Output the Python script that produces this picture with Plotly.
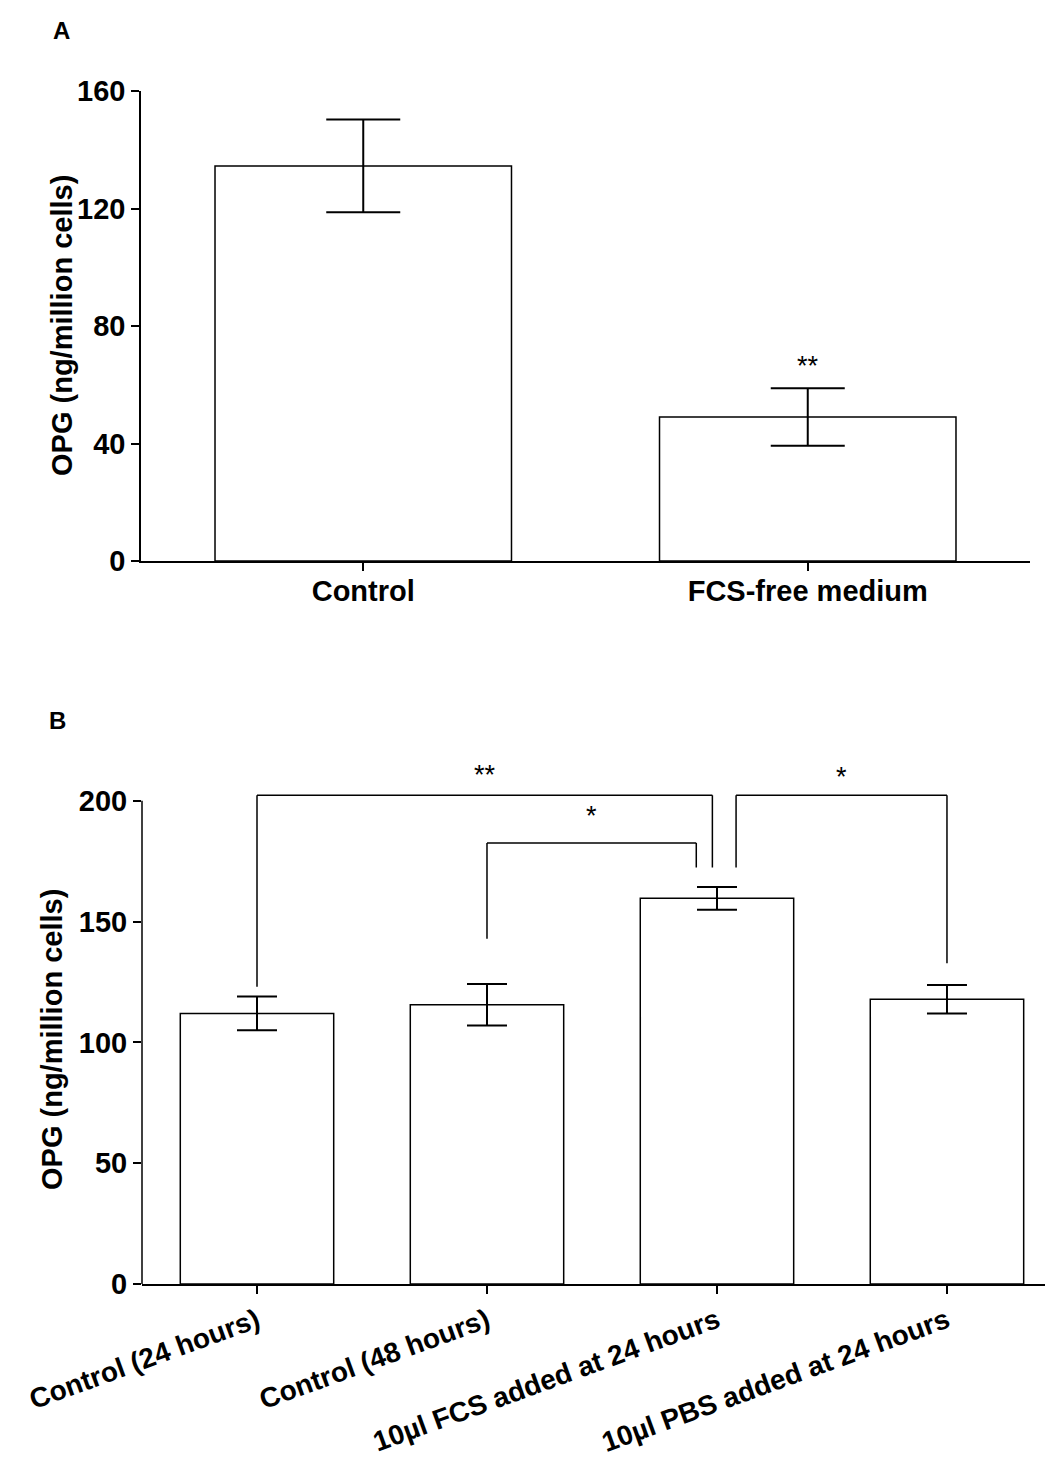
import plotly.graph_objects as go

# ---------------- data ----------------
cats_a = ["Control", "FCS-free medium"]
vals_a = [134.5, 49.0]
err_a = [15.8, 9.8]
sig_a = ["", "**"]
sig_a_y = [None, 68.0]
ticks_a = [0, 40, 80, 120, 160]

cats_b = ["Control (24 hours)", "Control (48 hours)",
          "10µl FCS added at 24 hours", "10µl PBS added at 24 hours"]
vals_b = [112.0, 115.6, 159.6, 117.8]
err_b = [7.0, 8.6, 4.7, 5.9]
ticks_b = [0, 50, 100, 150, 200]

# significance brackets (panel B)
br_left = [0, 1, 2]
br_right = [2, 2, 3]
br_top = [202.3, 182.5, 202.3]
br_left_end = [123.0, 142.9, 172.4]
br_right_end = [172.4, 172.4, 132.7]
br_label = ["**", "*", "*"]
br_label_y = [211.5, 194.5, 210.5]

# ---------------- style ----------------
OFF = 8                      # default page body margin
W, H = 1053 - OFF, 1464 - OFF
FONT = "Liberation Sans, Arial, sans-serif"
LW = 1.5
FS = 29
br_left_off = [0.0, 0.0, 0.083]
br_right_off = [-0.02, -0.09, 0.0]


def px(p):
    return (p - OFF) / W


def py(p):
    return 1 - (p - OFF) / H


fig = go.Figure()

fig.add_trace(go.Bar(
    x=cats_a, y=vals_a, width=0.667,
    marker=dict(color="white", line=dict(color="black", width=LW)),
    error_y=dict(type="data", array=err_a, color="black", thickness=2, width=37),
    xaxis="x", yaxis="y", showlegend=False))

fig.add_trace(go.Bar(
    x=cats_b, y=vals_b, width=0.667,
    marker=dict(color="white", line=dict(color="black", width=LW)),
    error_y=dict(type="data", array=err_b, color="black", thickness=2, width=20),
    xaxis="x2", yaxis="y2", showlegend=False))

shapes = []
# y-axis line of panel B (0 -> 200 only)
shapes.append(dict(type="line", xref="x2 domain", yref="y2", x0=0, x1=0,
                   y0=ticks_b[0], y1=ticks_b[-1], line=dict(color="black", width=LW)))
annotations = []
for i in range(len(br_label)):
    xl = br_left[i] + br_left_off[i]
    xr = br_right[i] + br_right_off[i]
    shapes.append(dict(type="line", xref="x2", yref="y2", x0=xl, x1=xl,
                       y0=br_left_end[i], y1=br_top[i], line=dict(color="black", width=LW)))
    shapes.append(dict(type="line", xref="x2", yref="y2", x0=xl, x1=xr,
                       y0=br_top[i], y1=br_top[i], line=dict(color="black", width=LW)))
    shapes.append(dict(type="line", xref="x2", yref="y2", x0=xr, x1=xr,
                       y0=br_top[i], y1=br_right_end[i], line=dict(color="black", width=LW)))
    annotations.append(dict(x=(xl + xr) / 2, y=br_label_y[i], xref="x2", yref="y2",
                            text=br_label[i], showarrow=False, yshift=-2,
                            xanchor="center", yanchor="middle",
                            font=dict(family=FONT, size=27, color="black")))

for i, s in enumerate(sig_a):
    if s:
        annotations.append(dict(x=i, y=sig_a_y[i], xref="x", yref="y", text=s,
                                showarrow=False, yshift=-5, xanchor="center", yanchor="middle",
                                font=dict(family=FONT, size=27, color="black")))

# panel letters
annotations.append(dict(x=px(61), y=py(31), xref="paper", yref="paper", text="<b>A</b>",
                        xanchor="center", yanchor="middle", showarrow=False,
                        font=dict(family=FONT, size=24, color="black")))
annotations.append(dict(x=px(57), y=py(720), xref="paper", yref="paper", text="<b>B</b>",
                        xanchor="center", yanchor="middle", showarrow=False,
                        font=dict(family=FONT, size=24, color="black")))
# y-axis titles
annotations.append(dict(x=px(62), y=py(326), xref="paper", yref="paper",
                        text="<b>OPG (ng/million cells)</b>", textangle=-90, showarrow=False,
                        xanchor="center", yanchor="middle",
                        font=dict(family=FONT, size=FS, color="black")))
annotations.append(dict(x=px(52), y=py(1040), xref="paper", yref="paper",
                        text="<b>OPG (ng/million cells)</b>", textangle=-90, showarrow=False,
                        xanchor="center", yanchor="middle",
                        font=dict(family=FONT, size=FS, color="black")))

tickfont = dict(family=FONT, size=FS, color="black", weight="bold")
axis_common = dict(showgrid=False, zeroline=False, ticks="outside", ticklen=8,
                   tickwidth=LW, tickcolor="black", linecolor="black", linewidth=LW,
                   automargin=False)

fig.update_layout(
    width=W, height=H, margin=dict(l=0, r=0, t=0, b=0),
    paper_bgcolor="white", plot_bgcolor="white",
    font=dict(family=FONT, color="black"),
    xaxis=dict(domain=[px(141), px(1030)], range=[-0.5, 1.5], showline=True,
               anchor="y", ticklabelstandoff=-5, tickfont=tickfont, **axis_common),
    yaxis=dict(domain=[py(561), py(91)], range=[ticks_a[0], ticks_a[-1]],
               tickvals=ticks_a, showline=True, anchor="x", tickfont=tickfont, **axis_common),
    xaxis2=dict(domain=[px(142), 1.0], range=[-0.5, 3.461], showline=True,
                tickangle=-20, anchor="y2",
                tickfont=dict(family=FONT, size=28, color="black", weight="bold"),
                **axis_common),
    yaxis2=dict(domain=[py(1284), py(764.5)], range=[0, 215],
                tickvals=ticks_b, showline=False, anchor="x2", tickfont=tickfont, **axis_common),
    shapes=shapes, annotations=annotations, bargap=0.333,
)

fig.write_html("out.html")
